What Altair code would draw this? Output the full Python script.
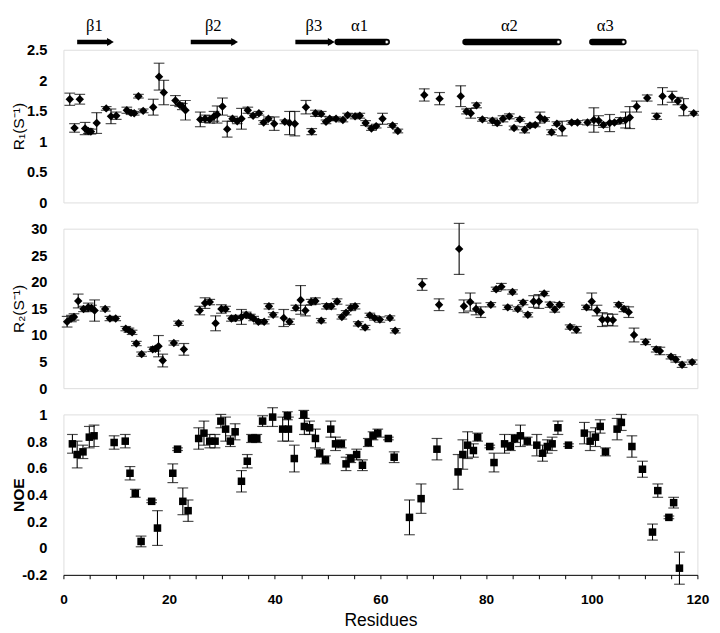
import altair as alt
import pandas as pd

# ---------------- R1 data ----------------
r1_res = [1.2, 2.1, 3.1, 4.1, 4.7, 5.2, 6.3, 8.1, 9.0, 10.0,
          12.0, 12.8, 13.4, 14.2, 15.1, 17.0, 18.1, 19.0, 21.2, 22.0,
          22.5, 23.1, 25.9, 26.8, 27.7, 28.5, 29.1, 30.1, 31.0, 32.0,
          32.9, 33.7, 34.9, 35.9, 37.0, 37.9, 38.8, 39.9, 41.9, 42.8,
          43.8, 45.9, 47.0, 47.7, 48.8, 49.7, 50.4, 51.6, 52.9, 53.8,
          55.2, 56.1, 57.2, 58.3, 59.2, 60.4, 62.3, 63.3, 68.3, 71.2,
          75.2, 76.3, 77.1, 78.2, 79.3, 81.2, 82.1, 83.2, 84.4, 85.3,
          86.4, 87.3, 88.3, 89.3, 90.2, 91.1, 92.4, 93.4, 94.4, 96.2,
          97.3, 99.2, 100.4, 101.3, 102.2, 103.4, 104.3, 105.4, 106.4, 107.2,
          108.5, 110.5, 112.3, 113.4, 115.2, 116.3, 117.4, 119.3]
r1_val = [1.69, 1.22, 1.69, 1.21, 1.17, 1.16, 1.30, 1.54, 1.41, 1.42,
          1.51, 1.47, 1.46, 1.74, 1.50, 1.56, 2.06, 1.80, 1.67, 1.60,
          1.57, 1.51, 1.36, 1.37, 1.36, 1.41, 1.44, 1.57, 1.20, 1.37,
          1.33, 1.37, 1.51, 1.42, 1.46, 1.31, 1.37, 1.29, 1.32, 1.30,
          1.29, 1.56, 1.16, 1.46, 1.45, 1.32, 1.37, 1.37, 1.35, 1.43,
          1.41, 1.42, 1.30, 1.21, 1.25, 1.37, 1.26, 1.17, 1.76, 1.70,
          1.74, 1.49, 1.46, 1.59, 1.36, 1.34, 1.30, 1.37, 1.41, 1.22,
          1.36, 1.19, 1.26, 1.27, 1.39, 1.36, 1.15, 1.29, 1.21, 1.31,
          1.31, 1.31, 1.35, 1.34, 1.27, 1.30, 1.31, 1.34, 1.35, 1.39,
          1.57, 1.71, 1.41, 1.74, 1.73, 1.66, 1.56, 1.46]
r1_err = [0.10, 0.07, 0.08, 0.10, 0.04, 0.04, 0.17, 0.03, 0.12, 0.06,
          0.05, 0.03, 0.03, 0.03, 0.03, 0.13, 0.22, 0.20, 0.08, 0.03,
          0.05, 0.16, 0.12, 0.06, 0.06, 0.08, 0.14, 0.14, 0.13, 0.04,
          0.04, 0.17, 0.05, 0.03, 0.03, 0.03, 0.03, 0.11, 0.03, 0.19,
          0.20, 0.11, 0.05, 0.05, 0.04, 0.03, 0.03, 0.03, 0.03, 0.03,
          0.04, 0.04, 0.04, 0.03, 0.03, 0.09, 0.03, 0.03, 0.10, 0.10,
          0.17, 0.04, 0.08, 0.04, 0.03, 0.04, 0.04, 0.05, 0.04, 0.03,
          0.03, 0.05, 0.03, 0.03, 0.09, 0.03, 0.04, 0.03, 0.12, 0.03,
          0.03, 0.04, 0.20, 0.08, 0.04, 0.14, 0.03, 0.05, 0.13, 0.18,
          0.09, 0.05, 0.05, 0.14, 0.09, 0.06, 0.14, 0.03]

# ---------------- R2 data ----------------
r2_res = [0.7, 1.5, 2.0, 2.8, 3.8, 4.7, 5.3, 5.9, 7.9, 8.8,
          9.9, 11.8, 12.4, 13.0, 13.8, 14.8, 16.9, 17.4, 18.0, 18.8,
          20.9, 21.8, 22.8, 25.8, 26.8, 27.7, 28.8, 29.9, 30.7, 31.8,
          32.6, 33.7, 34.6, 35.4, 36.0, 36.9, 38.0, 38.9, 39.7, 41.7,
          42.8, 44.0, 44.9, 45.8, 46.9, 47.7, 48.8, 49.8, 50.7, 51.8,
          52.7, 53.5, 54.4,
          55.2, 55.8, 57.1, 58.0, 58.9, 59.9, 61.8, 62.8, 67.9, 71.1,
          74.9, 75.8, 77.0, 78.1, 79.0, 80.9, 81.9, 82.9, 84.1, 85.0,
          86.0, 87.0, 87.9, 89.0, 90.0, 91.0, 92.1, 93.0, 93.9, 95.9,
          97.1, 99.0, 100.0, 101.0, 102.0, 103.0, 104.0, 105.1, 106.1, 107.0,
          108.0, 110.2, 112.2, 112.9, 115.0, 115.9, 117.1, 119.0]
r2_val = [12.5, 13.1, 13.4, 16.4, 14.9, 15.2, 15.1, 14.6, 14.9, 13.1,
          13.1, 11.2, 10.9, 10.5, 8.4, 6.4, 7.3, 7.4, 7.9, 5.2,
          8.5, 12.2, 7.3, 14.6, 16.0, 16.2, 12.2, 14.9, 14.9, 13.1,
          13.2, 13.4, 13.8, 13.5, 13.1, 12.5, 12.5, 15.4, 13.8, 13.2,
          12.5, 15.1, 16.6, 14.6, 16.2, 16.4, 12.7, 15.4, 15.4, 16.3,
          13.4, 14.2, 15.1,
          15.4, 12.1, 11.4, 13.7, 13.2, 12.9, 13.2, 10.8, 19.5, 15.7,
          26.2, 15.4, 16.2, 14.9, 14.3, 15.7, 18.6, 19.1, 15.2, 18.1,
          14.9, 16.1, 13.8, 16.3, 16.3, 17.8, 15.7, 14.8, 15.7, 11.5,
          11.0, 15.2, 16.3, 14.6, 12.9, 12.9, 12.8, 15.7, 14.9, 14.3,
          10.0, 8.7, 7.3, 7.0, 5.9, 5.4, 4.4, 4.9]
r2_err = [1.0, 0.6, 0.6, 1.3, 0.5, 0.8, 0.5, 2.0, 0.4, 0.4,
          0.4, 0.4, 0.4, 0.4, 0.4, 0.4, 0.4, 0.4, 2.0, 1.2,
          0.4, 0.4, 1.1, 0.8, 1.0, 0.5, 1.4, 0.8, 0.5, 0.5,
          0.5, 1.4, 0.5, 0.4, 0.4, 0.4, 0.4, 0.5, 0.4, 1.6,
          0.5, 0.5, 2.7, 1.0, 0.5, 0.6, 0.4, 0.5, 0.5, 0.5,
          0.4, 0.4, 0.5,
          0.5, 0.4, 0.4, 0.4, 0.4, 0.5, 0.4, 0.4, 1.1, 1.1,
          4.8, 1.2, 1.7, 1.1, 1.0, 0.4, 0.4, 0.6, 0.4, 0.4,
          0.4, 0.4, 0.4, 1.1, 1.3, 0.4, 0.5, 0.5, 0.4, 0.4,
          0.6, 0.4, 1.6, 1.0, 1.3, 1.1, 1.1, 0.4, 0.5, 1.0,
          1.3, 0.5, 0.5, 0.7, 0.4, 0.5, 0.5, 0.4]

# ---------------- NOE data ----------------
noe_res = [1.7, 2.6, 3.7, 4.9, 5.8, 9.6, 11.7, 12.6, 13.6, 14.7,
           16.7, 17.8, 20.7, 21.6, 22.6, 23.6, 25.6, 26.6, 27.7, 28.7,
           29.8, 30.7, 31.6, 32.5, 33.7, 34.8, 35.6, 36.6, 37.7, 39.6,
           41.5, 42.6, 42.4, 43.7, 45.5, 45.6, 46.6, 47.7, 48.5, 49.6,
           50.6, 51.5, 52.6, 53.5, 54.4,
           55.5, 56.6, 57.7, 58.6, 59.5, 61.5, 62.6, 65.5, 67.7, 70.7,
           74.7, 75.6, 76.5, 77.6, 78.4, 80.7, 81.5, 83.5, 84.6, 85.4,
           86.5, 87.8, 89.6, 90.7, 91.6, 92.5, 93.6, 95.6, 98.6, 99.7,
           100.7, 101.6, 102.6, 104.8, 105.6, 107.6, 109.6, 111.5, 112.5, 114.6,
           115.5, 116.6]
noe_val = [0.78, 0.70, 0.72, 0.83, 0.84, 0.79, 0.80, 0.56, 0.41, 0.05,
           0.35, 0.15, 0.56, 0.74, 0.35, 0.28, 0.82, 0.86, 0.80, 0.80,
           0.95, 0.89, 0.80, 0.87, 0.50, 0.65, 0.82, 0.82, 0.95, 0.98,
           0.89, 0.89, 0.99, 0.67, 1.00, 0.91, 0.90, 0.82, 0.71, 0.66,
           0.89, 0.78, 0.78, 0.63, 0.67,
           0.70, 0.62, 0.79, 0.84, 0.86, 0.82, 0.68, 0.23, 0.37, 0.74,
           0.57, 0.70, 0.77, 0.73, 0.83, 0.76, 0.64, 0.78, 0.76, 0.82,
           0.84, 0.80, 0.77, 0.71, 0.76, 0.78, 0.90, 0.77, 0.86, 0.80,
           0.83, 0.91, 0.72, 0.89, 0.94, 0.76, 0.59, 0.12, 0.43, 0.23,
           0.34, -0.15]
noe_err = [0.07, 0.10, 0.05, 0.08, 0.08, 0.05, 0.05, 0.05, 0.03, 0.04,
           0.01, 0.13, 0.07, 0.01, 0.10, 0.08, 0.08, 0.09, 0.05, 0.05,
           0.05, 0.09, 0.04, 0.06, 0.08, 0.05, 0.03, 0.03, 0.04, 0.07,
           0.09, 0.09, 0.03, 0.10, 0.03, 0.06, 0.05, 0.07, 0.03, 0.03,
           0.06, 0.05, 0.03, 0.05, 0.03,
           0.04, 0.04, 0.03, 0.03, 0.03, 0.01, 0.04, 0.13, 0.11, 0.08,
           0.13, 0.11, 0.10, 0.05, 0.03, 0.01, 0.07, 0.07, 0.03, 0.03,
           0.08, 0.03, 0.08, 0.06, 0.05, 0.05, 0.05, 0.01, 0.08, 0.07,
           0.07, 0.05, 0.03, 0.08, 0.06, 0.08, 0.06, 0.06, 0.05, 0.01,
           0.04, 0.12]

# ---------------- secondary structure ----------------
ss_name = ["β1", "β2", "β3", "α1", "α2", "α3"]
ss_type = ["strand", "strand", "strand", "helix", "helix", "helix"]
ss_start = [2.6, 24.1, 43.9, 51.9, 76.1, 100.1]
ss_end = [10.1, 33.6, 51.9, 61.2, 93.7, 106.0]


def make_df(res, val, err):
    df = pd.DataFrame({"res": res, "val": val, "err": err})
    df["lo"] = df["val"] - df["err"]
    df["hi"] = df["val"] + df["err"]
    return df


W = 652
FONT = "Liberation Sans"
x_scale = alt.Scale(domain=[0, 120], nice=False, zero=False)
LABEL_EXPR = "replace(format(datum.value, '.1~f'), '\u2212', '-')"


def y_axis(title, values, bold_title=False):
    return alt.Axis(values=values, title=title, ticks=False, tickSize=0, domain=False,
                    grid=False, labelFont=FONT, labelFontWeight="bold", labelFontSize=15,
                    labelColor="black", labelPadding=17, minExtent=36, maxExtent=36,
                    labelExpr=LABEL_EXPR,
                    titleFont=FONT, titleFontSize=16,
                    titleFontWeight="bold" if bold_title else "normal",
                    titleColor="black", titlePadding=2)


def panel(df, shape, size, title, domain, values, xaxis, bold_title=False):
    ys = alt.Scale(domain=domain, nice=False, zero=False)
    ax = y_axis(title, values, bold_title)
    x = alt.X("res:Q", scale=x_scale, axis=xaxis)
    base = alt.Chart(df)
    rules = base.mark_rule(color="black", strokeWidth=1.1).encode(
        x=x, y=alt.Y("lo:Q", scale=ys, axis=ax), y2="hi:Q")
    cap_lo = base.mark_tick(color="black", orient="horizontal", size=11, thickness=1.2).encode(
        x=x, y=alt.Y("lo:Q", scale=ys, axis=ax))
    cap_hi = base.mark_tick(color="black", orient="horizontal", size=11, thickness=1.2).encode(
        x=x, y=alt.Y("hi:Q", scale=ys, axis=ax))
    pts = base.mark_point(shape=shape, filled=True, color="black", size=size, opacity=1).encode(
        x=x, y=alt.Y("val:Q", scale=ys, axis=ax))
    return [rules, cap_lo, cap_hi, pts]


r1_df = make_df(r1_res, r1_val, r1_err)
r2_df = make_df(r2_res, r2_val, r2_err)
noe_df = make_df(noe_res, noe_val, noe_err)

ss_df = pd.DataFrame({"name": ss_name, "type": ss_type, "start": ss_start, "end": ss_end})
ss_df["mid"] = (ss_df["start"] + ss_df["end"]) / 2
ss_df["shaft_end"] = ss_df["end"] - 1.2
ss_df["label_x"] = ss_df["mid"] - 0.5

ss_base = alt.Chart(ss_df)
xs = lambda f: alt.X(f, scale=x_scale, axis=None)
strands = ss_base.transform_filter("datum.type == 'strand'")
helices = ss_base.transform_filter("datum.type == 'helix'")
BAR_Y = -8
shaft = strands.mark_rule(color="black", strokeWidth=4.5).encode(
    x=xs("start:Q"), x2="shaft_end:Q", y=alt.value(BAR_Y))
head = strands.mark_point(shape="triangle-right", filled=True, color="black", size=65, opacity=1).encode(
    x=xs("shaft_end:Q"), y=alt.value(BAR_Y))
helix = helices.mark_rule(color="black", strokeWidth=6.5, strokeCap="round").encode(
    x=xs("start:Q"), x2="end:Q", y=alt.value(BAR_Y))
helix_end = helices.mark_point(shape="circle", filled=True, fill="white", stroke="black",
                               strokeWidth=0.6, size=12, opacity=1).encode(
    x=xs("end:Q"), y=alt.value(BAR_Y))
ss_text = ss_base.mark_text(font="Liberation Serif", fontSize=17, color="black",
                            baseline="top").encode(
    x=xs("label_x:Q"), y=alt.value(-32), text="name:N")

p1 = alt.layer(*panel(r1_df, "diamond", 75, "R₁(S⁻¹)", [0, 2.5],
                      [0, 0.5, 1, 1.5, 2, 2.5], None),
               shaft, head, helix, helix_end, ss_text).properties(width=W, height=157)

p2 = alt.layer(*panel(r2_df, "diamond", 75, "R₂(S⁻¹)", [0, 30],
                      [0, 5, 10, 15, 20, 25, 30], None)).properties(width=W, height=164)

x_bottom = alt.Axis(values=list(range(0, 121, 5)),
                    labelExpr="datum.value % 20 == 0 ? datum.label : ''",
                    title="Residues", grid=False, domain=True, domainColor="black",
                    ticks=True, tickColor="black", tickSize=4, tickWidth=1,
                    labelFont=FONT, labelFontWeight="bold", labelFontSize=14,
                    labelColor="black", labelPadding=14, labelFlush=False,
                    titleFont=FONT, titleFontSize=18, titleFontWeight="normal",
                    titleColor="black", titlePadding=6)
p3 = alt.layer(*panel(noe_df, "square", 60, "NOE", [-0.2, 1],
                      [-0.2, 0, 0.2, 0.4, 0.6, 0.8, 1], x_bottom, bold_title=True)
               ).properties(width=W, height=165)

chart = alt.vconcat(p1, p2, p3, spacing=27, bounds="flush").properties(
    padding={"left": 2, "top": 0, "right": 2, "bottom": 0}
).configure_view(stroke="black", strokeWidth=1.5).configure(background="white")

chart.save("out.html", embed_options={"renderer": "svg", "actions": False})
